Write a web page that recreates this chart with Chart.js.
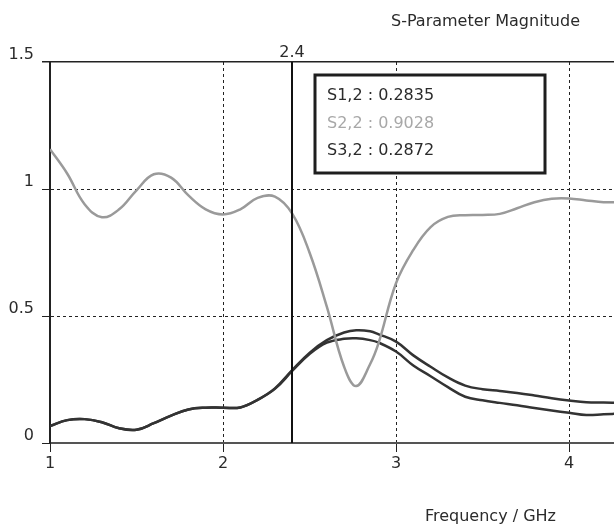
<!DOCTYPE html>
<html>
<head>
<meta charset="utf-8">
<script src="https://cdn.jsdelivr.net/npm/chart.js@4/dist/chart.umd.min.js"></script>
<style>
	html, body { margin: 0; padding: 0; background: #fff; }
	canvas { display: block; }
</style>
</head>
<body>
<canvas id="chart" width="614" height="531"></canvas>
<script>
// Frequency points (GHz)
const freq = [
	1.0, 1.1, 1.2, 1.3, 1.4, 1.5, 1.6, 1.7, 1.8, 1.9,
	2.0, 2.1, 2.2, 2.3, 2.4, 2.5, 2.6, 2.7, 2.77, 2.85,
	2.9, 3.0, 3.1, 3.2, 3.3, 3.4, 3.5, 3.6, 3.7, 3.8,
	3.9, 4.0, 4.1, 4.2, 4.3,
];

// Magnitudes
const s12 = [
	0.067, 0.09, 0.094, 0.082, 0.058, 0.052, 0.078, 0.108, 0.132, 0.139,
	0.139, 0.14, 0.17, 0.213, 0.2835, 0.35, 0.395, 0.41, 0.412, 0.405,
	0.395, 0.36, 0.305, 0.263, 0.22, 0.182, 0.168, 0.158, 0.149, 0.138,
	0.128, 0.119, 0.11, 0.113, 0.116,
];
const s22 = [
	1.157, 1.06, 0.94, 0.889, 0.92, 0.995, 1.058, 1.045, 0.975, 0.92,
	0.9, 0.92, 0.965, 0.97, 0.903, 0.75, 0.537, 0.3, 0.224, 0.31,
	0.395, 0.629, 0.76, 0.85, 0.89, 0.897, 0.898, 0.902, 0.924, 0.948,
	0.962, 0.963, 0.955, 0.948, 0.948,
];
const s32 = [
	0.067, 0.09, 0.094, 0.082, 0.058, 0.052, 0.078, 0.108, 0.132, 0.139,
	0.139, 0.14, 0.17, 0.215, 0.2872, 0.355, 0.405, 0.435, 0.444, 0.44,
	0.428, 0.399, 0.345, 0.3, 0.258, 0.226, 0.212, 0.205, 0.197, 0.187,
	0.176, 0.167, 0.16, 0.159, 0.159,
];

const xTicks = [1, 2, 3, 4];
const yTicks = [0, 0.5, 1, 1.5];

// Marker and its readout
const markerFreq = 2.4;
const readoutNames = ["S1,2", "S2,2", "S3,2"];
const readoutValues = ["0.2835", "0.9028", "0.2872"];

const darkColor = "#2b2b2b";
const grayColor = "#9a9a9a";
const fontFamily = "'DejaVu Sans', sans-serif";

function toPoints(values) {
	return freq.map((f, i) => ({ x: f, y: values[i] }));
}

// Title, axis caption, marker line and readout box
const overlayPlugin = {
	id: "overlay",
	afterDatasetsDraw(chart) {
		const { ctx, chartArea, scales } = chart;
		const mx = Math.round(scales.x.getPixelForValue(markerFreq));

		ctx.save();
		ctx.strokeStyle = "#111";
		ctx.lineWidth = 2;
		ctx.beginPath();
		ctx.moveTo(mx, chartArea.top);
		ctx.lineTo(mx, chartArea.bottom);
		ctx.stroke();

		ctx.fillStyle = darkColor;
		ctx.font = "16px " + fontFamily;
		ctx.textAlign = "center";
		ctx.textBaseline = "alphabetic";
		ctx.fillText(String(markerFreq), mx, 57);

		// readout box
		ctx.fillStyle = "#fff";
		ctx.fillRect(315, 75, 230, 98);
		ctx.lineWidth = 3;
		ctx.strokeStyle = "#1e1e1e";
		ctx.strokeRect(315, 75, 230, 98);

		ctx.textAlign = "left";
		ctx.textBaseline = "middle";
		readoutNames.forEach((name, i) => {
			ctx.fillStyle = i === 1 ? "#a8a8a8" : darkColor;
			ctx.fillText(`${name} : ${readoutValues[i]}`, 327, 96 + i * 27.5);
		});

		ctx.fillStyle = darkColor;
		ctx.textAlign = "right";
		ctx.textBaseline = "alphabetic";
		ctx.fillText("S-Parameter Magnitude", 580, 26);
		ctx.fillText("Frequency / GHz", 556, 521);
		ctx.restore();
	},
};

new Chart(document.getElementById("chart"), {
	type: "line",
	data: {
		datasets: [
			{ label: "S2,2", data: toPoints(s22), borderColor: grayColor, borderWidth: 2.5 },
			{ label: "S1,2", data: toPoints(s12), borderColor: "#333", borderWidth: 2.5 },
			{ label: "S3,2", data: toPoints(s32), borderColor: "#333", borderWidth: 2.5 },
		],
	},
	options: {
		responsive: false,
		animation: false,
		devicePixelRatio: 1,
		parsing: false,
		layout: { padding: { top: 62, left: 0, right: 0, bottom: 0 } },
		elements: {
			point: { radius: 0 },
			line: { tension: 0.4, fill: false },
		},
		plugins: {
			legend: { display: false },
			tooltip: { enabled: false },
			title: { display: false },
		},
		scales: {
			x: {
				type: "linear",
				min: 1,
				max: 4.26,
				afterBuildTicks(scale) {
					scale.ticks = xTicks.map((v) => ({ value: v }));
				},
				afterFit(scale) {
					scale.height = 88;
				},
				grid: {
					color: (c) => (c.tick && c.tick.value === 1 ? "rgba(0,0,0,0)" : "#222"),
					tickColor: "#222",
					lineWidth: 1,
					tickLength: 9,
				},
				border: { display: true, color: "#555", width: 2, dash: [3, 3] },
				ticks: {
					color: darkColor,
					padding: 2,
					font: { family: fontFamily, size: 16 },
					callback: (v) => String(v),
				},
			},
			y: {
				min: 0,
				max: 1.5,
				afterBuildTicks(scale) {
					scale.ticks = yTicks.map((v) => ({ value: v }));
				},
				afterFit(scale) {
					scale.width = 50;
				},
				grid: {
					color: "#222",
					tickColor: "#222",
					lineWidth: (c) => (c.tick && c.tick.value === 1.5 ? 1.5 : 1),
					tickLength: 8,
				},
				border: {
					display: true,
					color: "#222",
					width: 2,
					dash: (c) => (c.tick && (c.tick.value === 1.5 || c.tick.value === 0) ? [] : [3, 3]),
				},
				ticks: {
					color: darkColor,
					padding: 8,
					labelOffset: -7,
					font: { family: fontFamily, size: 16 },
					callback: (v) => String(v),
				},
			},
		},
	},
	plugins: [overlayPlugin],
});
</script>
</body>
</html>
